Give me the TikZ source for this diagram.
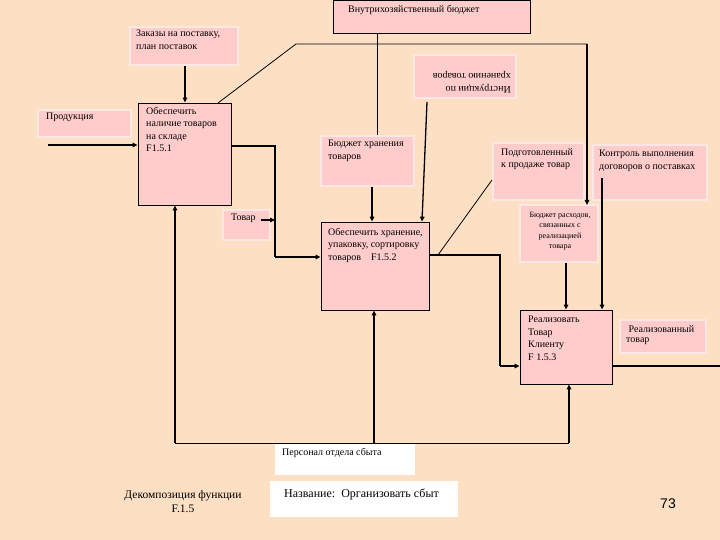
\documentclass[tikz,border=0pt]{standalone}
\usepackage{fontspec}
\setmainfont{Liberation Serif}
\newfontfamily\numfont{Liberation Sans}
\usetikzlibrary{arrows.meta,fit}
\definecolor{bg}{HTML}{FDDFC4}
\definecolor{pk}{HTML}{FFCCCC}
\definecolor{pkb}{HTML}{FBE8E4}
\begin{document}
\begin{tikzpicture}[x=1pt,y=-1pt,
  lbl/.style={draw=pkb, fill=pk, line width=1.2pt, inner sep=0pt},
  fbox/.style={draw=black, fill=pk, line width=0.8pt, inner sep=0pt},
  wbox/.style={draw=none, fill=white, inner sep=0pt},
  txt/.style={font=\fontsize{10}{12.5}\selectfont, align=left, inner sep=0pt, anchor=north west},
  ar/.style={line width=1.3pt, -{Triangle[length=5pt,width=4.5pt]}},
  ln/.style={line width=1.3pt},
  tn/.style={line width=0.8pt}]
\fill[bg] (0,0) rectangle (720,540);
\useasboundingbox (0,0) rectangle (720,540);

% boxes
\node[fbox, fit={(333,0)(530,33)}] (top) {};
\node[lbl, fit={(130,27)(238,65)}] (zak) {};
\node[lbl, fit={(414,55)(516,98)}] (ins) {};
\node[lbl, fit={(38,110)(131,137)}] (prod) {};
\node[fbox, fit={(138,103)(231,205)}] (f1) {};
\node[lbl, fit={(321,136)(414,186)}] (bud) {};
\node[lbl, fit={(223,210)(270,240)}] (tov) {};
\node[fbox, fit={(321,222)(429,310)}] (f2) {};
\node[lbl, fit={(493,143)(584,200)}] (podg) {};
\node[lbl, fit={(593,145)(707,200)}] (kon) {};
\node[lbl, fit={(520,205)(598,262)}] (brs) {};
\node[fbox, fit={(520,310)(612,384)}] (f3) {};
\node[lbl, fit={(620,320)(706,353)}] (real) {};
\node[wbox, fit={(275,444)(415,475)}] (pers) {};
\node[wbox, fit={(270,481)(458,517)}] (naz) {};

% texts
\node[txt] (ttop) at (348,5) {Внутрихозяйственный бюджет};
\node[txt] (tzak) at (136,30) {Заказы на поставку,\\план поставок};
\node[txt, rotate=180] (tins) at (511,93) {Инструкции по\\хранению товаров};
\node[txt] (tprod) at (46,113) {Продукция};
\node[txt] (tf1) at (146,107) {Обеспечить\\наличие товаров\\на складе\\F1.5.1};
\node[txt] (tbud) at (328,140) {Бюджет хранения\\товаров};
\node[txt] (ttov) at (231,214) {Товар};
\node[txt] (tf2) at (328,228) {Обеспечить хранение,\\упаковку, сортировку\\товаров\quad F1.5.2};
\node[txt] (tpodg) at (501,148) {Подготовленный\\к продаже товар};
\node[txt] (tkon) at (599,150) {Контроль выполнения\\договоров о поставках};
\node[txt, anchor=north, align=center, font=\fontsize{8}{10.5}\selectfont] (tbrs) at (560,212) {Бюджет расходов,\\связанных с\\реализацией\\товара};
\node[txt] (tf3) at (528,316) {Реализовать\\Товар\\Клиенту\\F 1.5.3};
\node[txt, font=\fontsize{10}{10}\selectfont] (treal) at (626,325) {\ Реализованный\\товар};
\node[txt] (tpers) at (282,448) {Персонал отдела сбыта};
\node[txt, font=\fontsize{12}{13}\selectfont] (tnaz) at (284,489) {Название:\ \ Организовать сбыт};
\node[txt, anchor=north, align=center, font=\fontsize{11.5}{14}\selectfont] (tdec) at (183,490) {Декомпозиция функции\\F.1.5};
\node[inner sep=0pt, font=\numfont\fontsize{14}{16}\selectfont] (num) at (668,504) {73};

% coordinates
\coordinate (h1) at (296,44);
\coordinate (h2) at (587,44);
\coordinate (brsin) at (587,205);
\coordinate (f1c) at (218,103);
\coordinate (pin) at (48,145);
\coordinate (c1) at (275,146);
\coordinate (c2) at (275,257);
\coordinate (tv) at (275,220);
\coordinate (d1) at (500,255);
\coordinate (d2) at (500,366);
\coordinate (pd) at (438,255);
\coordinate (out) at (720,366);
\coordinate (b1) at (175,443);
\coordinate (b2) at (569,443);
\coordinate (bm) at (374,443);

% connectors
\draw[ar] (zak.south -| 185,0) -- (f1.north -| 185,0);
\draw[tn] (top.south -| 377,0) -- (bud.north -| 377,0);
\draw[ar] (bud.south -| 372,0) -- (f2.north -| 372,0);
\draw[ar] (427,102) -- (f2.north -| 422,0);
\draw[tn] (f1c) -- (h1) -- (h2);
\draw[ar] (h2) -- (brsin);
\draw[ar] (pin) -- (pin -| f1.west);
\draw[ln] (f1.east |- c1) -- (c1) -- (c2);
\draw[ar] (c2) -- (c2 -| f2.west);
\draw[ar] (tov.east |- tv) ++(-10,0) -- (tv);
\draw[ln] (f2.east |- d1) -- (d1) -- (d2);
\draw[ar] (d2) -- (d2 -| f3.west);
\draw[tn] (492,180) -- (pd);
\draw[ar] (brs.south -| 566,0) -- (f3.north -| 566,0);
\draw[ar] (602,178) -- (f3.north -| 602,0);
\draw[ln] (f3.east |- out) -- (out);
\draw[tn] (b1) -- (b2);
\draw[ar] (b1) -- (f1.south -| b1);
\draw[ar] (b2) -- (f3.south -| b2);
\draw[ar] (pers.north -| bm) -- (f2.south -| bm);
\end{tikzpicture}
\end{document}
